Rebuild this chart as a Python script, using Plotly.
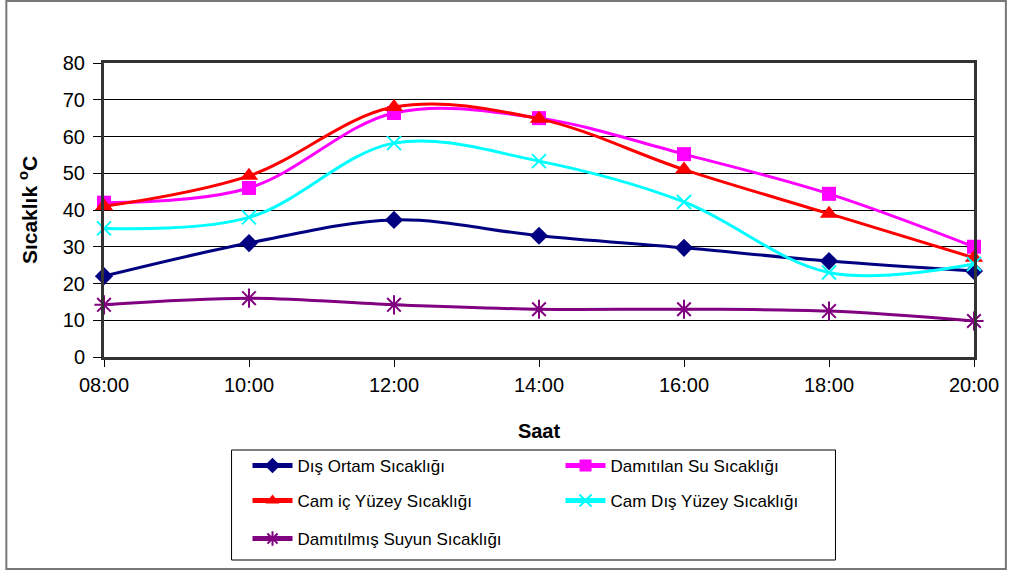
import plotly.graph_objects as go

hours = [8, 10, 12, 14, 16, 18, 20]
hour_labels = ["08:00", "10:00", "12:00", "14:00", "16:00", "18:00", "20:00"]

dis_ortam = [22, 31, 37.3, 33, 29.7, 26.1, 23.4]
damitilan_su = [42, 46, 66.4, 65, 55.2, 44.4, 30]
cam_ic = [41, 49.3, 68, 64.8, 51, 39, 27]
cam_dis = [35, 38, 58.2, 53.3, 42.2, 23, 25.3]
damitilmis = [14.2, 16, 14.2, 13, 13, 12.5, 9.8]

series = [
    ("Dış Ortam Sıcaklığı", dis_ortam, "#000080", "diamond", 14, "legend"),
    ("Damıtılan Su Sıcaklığı", damitilan_su, "#FF00FF", "square", 14, "legend"),
    ("Cam iç Yüzey Sıcaklığı", cam_ic, "#FF0000", "triangle-up", 16, "legend2"),
    ("Cam Dış Yüzey Sıcaklığı", cam_dis, "#00FFFF", "x-thin", 14, "legend2"),
    ("Damıtılmış Suyun Sıcaklığı", damitilmis, "#800080", "asterisk", 16, "legend3"),
]

FONT = "Liberation Sans, Arial, sans-serif"

fig = go.Figure()
for name, vals, color, sym, size, leg in series:
    marker = dict(symbol=sym, size=size, color=color)
    if sym in ("x-thin", "asterisk"):
        marker["line"] = dict(color=color, width=2)
    fig.add_trace(go.Scatter(
        x=hours, y=vals, name=name, mode="lines+markers",
        line=dict(color=color, width=3, shape="spline", smoothing=1),
        marker=marker, legend=leg, cliponaxis=False,
    ))

W, H = 1011, 572
L, R, T, B = 104, 34, 63, 215
pw, ph = W - L - R, H - T - B

def px(xpix):
    return (xpix - L) / pw

def py(ypix):
    return (H - B - ypix) / ph

leg_common = dict(orientation="h", entrywidth=258, entrywidthmode="pixels",
                  font=dict(family=FONT, size=17, color="black"),
                  bgcolor="rgba(0,0,0,0)", borderwidth=0,
                  itemsizing="constant",
                  xanchor="left", yanchor="middle", itemwidth=40)

fig.update_layout(
    width=W, height=H,
    margin=dict(l=L, r=R, t=T, b=B),
    paper_bgcolor="white", plot_bgcolor="white",
    font=dict(family=FONT, size=19, color="black"),
    showlegend=True,
    legend=dict(x=px(248), y=py(466), **leg_common),
    legend2=dict(x=px(248), y=py(501), **leg_common),
    legend3=dict(x=px(248), y=py(539), **leg_common),
    xaxis=dict(
        range=[8, 20], tickvals=hours, ticktext=hour_labels,
        showgrid=False, zeroline=False,
        showline=True, linewidth=3, linecolor="#333333", mirror=True,
        ticks="outside", ticklen=7, tickwidth=1, tickcolor="black",
        tickfont=dict(family=FONT, size=20),
        ticklabelstandoff=1,
        title=dict(text="<b>Saat</b>", font=dict(family=FONT, size=20), standoff=29),
    ),
    yaxis=dict(
        range=[0, 80], dtick=10,
        showgrid=True, gridcolor="black", gridwidth=1, zeroline=False,
        showline=True, linewidth=3, linecolor="#333333", mirror=True,
        ticks="outside", ticklen=8, tickwidth=1, tickcolor="black",
        tickfont=dict(family=FONT, size=20),
        ticklabelstandoff=4,
        title=dict(text="<b>Sıcaklık <sup>o</sup>C</b>", font=dict(family=FONT, size=21), standoff=20),
    ),
    shapes=[
        dict(type="rect", xref="paper", yref="paper",
             x0=px(232), x1=px(838), y0=py(560), y1=py(450),
             line=dict(color="black", width=1), fillcolor="rgba(0,0,0,0)"),
        dict(type="rect", xref="paper", yref="paper",
             x0=px(6), x1=px(1009), y0=py(569), y1=py(1),
             line=dict(color="#777777", width=2), fillcolor="rgba(0,0,0,0)"),
    ],
)

fig.write_html("out.html", config={"displayModeBar": False},
               post_script="document.body.style.margin='0';document.body.style.overflow='hidden';")
